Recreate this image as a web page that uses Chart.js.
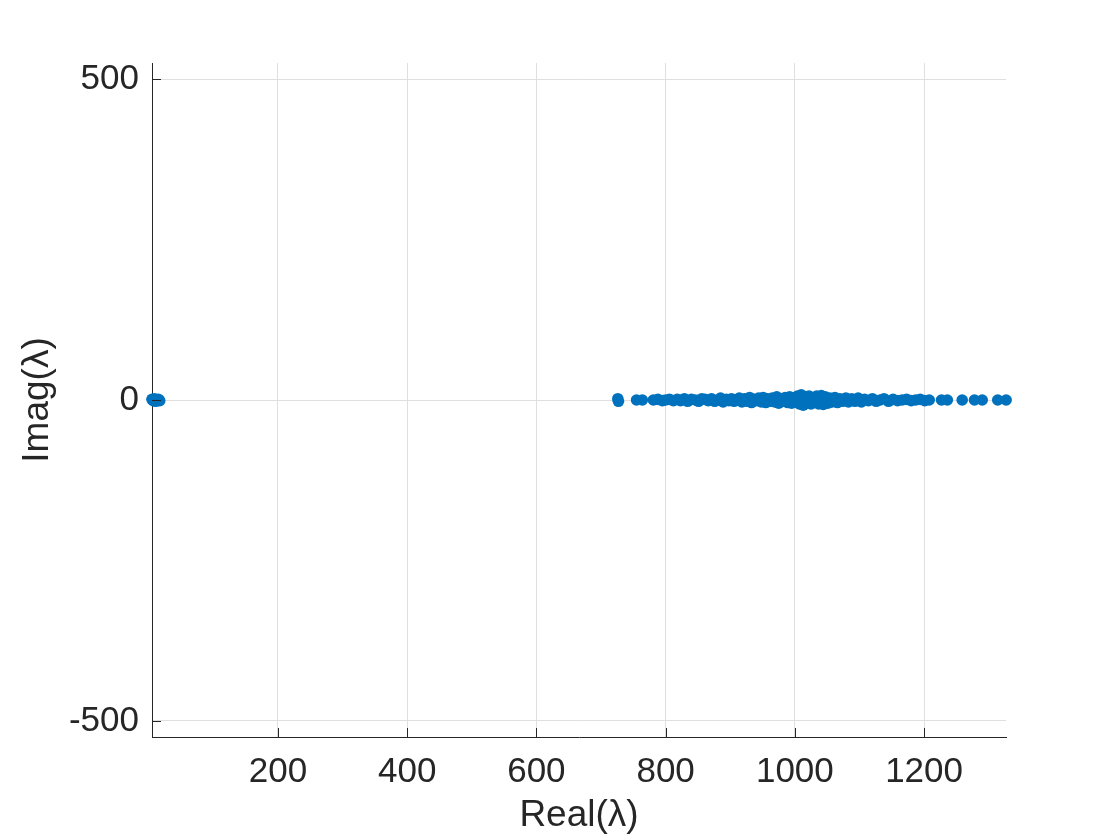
<!DOCTYPE html>
<html>
<head>
<meta charset="utf-8">
<script src="https://cdn.jsdelivr.net/npm/chart.js@4/dist/chart.umd.min.js"></script>
<style>
  html, body { margin: 0; padding: 0; background: #fff; }
  #wrap { width: 1120px; height: 840px; }
</style>
</head>
<body>
<div id="wrap"><canvas id="chart" width="1120" height="840"></canvas></div>
<script>
// eigenvalues: real and imaginary parts
const realParts = [
  5, 7, 9, 11, 13, 15, 17,
  726, 727, 755, 764, 781, 788, 795, 800, 806, 812,
  818, 823, 829, 834, 840, 846, 851, 856, 861, 866,
  871, 876, 881, 885, 889, 894, 898, 902, 906, 910,
  914, 918, 922, 926, 930, 933, 937, 941, 944, 948,
  951, 955, 958, 962, 965, 969, 972, 975, 979, 982,
  985, 989, 992, 995, 998, 1001, 1004, 1007, 1010, 1013,
  1016, 1019, 1022, 1025, 1028, 1031, 1034, 1037, 1041, 1044,
  1047, 1051, 1054, 1058, 1062, 1066, 1070, 1074, 1079, 1083,
  1088, 1093, 1098, 1103, 1108, 1114, 1120, 1126, 1132, 1138,
  1145, 1152, 1159, 1166, 1173, 1180, 1187, 1194, 1201, 1208,
  1227, 1236, 1259, 1278, 1290, 1314, 1327
];
const imagParts = [
  1, -1, 2, -2, 0, 1, -1,
  2, -2, 0, 0, 0, 1, -1, 0, 1, -1,
  1, -1, 2, -2, 1, 0, -2, 2, 1, -1,
  2, -2, 0, 3, -3, 1, -1, 2, -2, 0,
  3, -3, 2, -2, 4, -4, 1, -1, 3, -3,
  4, -4, 2, -2, 3, -3, 5, -5, 2, -2,
  4, -4, 5, -5, 3, -3, 6, -6, 8, -8,
  5, -5, 6, -6, 4, -4, 6, -6, 7, -7,
  5, -5, 3, -3, 4, -4, 2, -2, 3, -3,
  2, -2, 3, -3, 1, -1, 2, -2, 0, 2,
  -2, 1, -1, 0, 1, -1, 0, 1, -1, 0,
  0, 0, 0, 0, 0, 0, 0
];
const xTicks = [200, 400, 600, 800, 1000, 1200];
const yTicks = [-500, 0, 500];

const axisColor = "#262626";
const fontFamily = "'Liberation Sans', Arial, Helvetica, sans-serif";

// MATLAB style short ticks pointing into the axes
const innerTicks = {
  id: "innerTicks",
  afterDraw(chart) {
    const { ctx, chartArea, scales } = chart;
    ctx.save();
    ctx.strokeStyle = axisColor;
    ctx.lineWidth = 1;
    ctx.beginPath();
    xTicks.forEach((v) => {
      const px = Math.round(scales.x.getPixelForValue(v)) + 0.5;
      ctx.moveTo(px, chartArea.bottom);
      ctx.lineTo(px, chartArea.bottom - 9);
    });
    yTicks.forEach((v) => {
      const py = Math.round(scales.y.getPixelForValue(v)) + 0.5;
      ctx.moveTo(chartArea.left, py);
      ctx.lineTo(chartArea.left + 9, py);
    });
    ctx.stroke();
    ctx.restore();
  }
};

const points = realParts.map((re, i) => ({ x: re, y: imagParts[i] }));

new Chart(document.getElementById("chart"), {
  type: "scatter",
  data: {
    datasets: [{
      data: points,
      backgroundColor: "#0072BD",
      borderWidth: 0,
      pointRadius: 5.8,
      pointHoverRadius: 5.8,
      clip: false
    }]
  },
  plugins: [innerTicks],
  options: {
    responsive: false,
    animation: false,
    events: [],
    layout: { padding: { top: 63, right: 114, left: 0, bottom: 0 } },
    plugins: {
      legend: { display: false },
      tooltip: { enabled: false }
    },
    scales: {
      x: {
        type: "linear",
        min: 5.1,
        max: 1326.8,
        afterBuildTicks: (scale) => { scale.ticks = xTicks.map((v) => ({ value: v })); },
        afterFit: (scale) => { scale.height = 103; },
        grid: { color: "#dfdfdf", drawTicks: false },
        border: { display: true, color: axisColor, width: 1 },
        ticks: {
          color: axisColor,
          padding: 14,
          maxRotation: 0,
          callback: (v) => String(v),
          font: { family: fontFamily, size: 35 }
        },
        title: {
          display: true,
          text: "Real(λ)",
          color: axisColor,
          padding: { top: 0, bottom: 2 },
          font: { family: fontFamily, size: 37 }
        }
      },
      y: {
        type: "linear",
        min: -525,
        max: 525,
        afterBuildTicks: (scale) => { scale.ticks = yTicks.map((v) => ({ value: v })); },
        afterFit: (scale) => { scale.width = 152; },
        grid: { color: "#dfdfdf", drawTicks: false },
        border: { display: true, color: axisColor, width: 1 },
        ticks: {
          color: axisColor,
          padding: 13,
          callback: (v) => String(v),
          font: { family: fontFamily, size: 35 }
        },
        title: {
          display: true,
          text: "Imag(λ)",
          color: axisColor,
          padding: { top: 16, bottom: 0 },
          font: { family: fontFamily, size: 37 }
        }
      }
    }
  }
});
</script>
</body>
</html>
